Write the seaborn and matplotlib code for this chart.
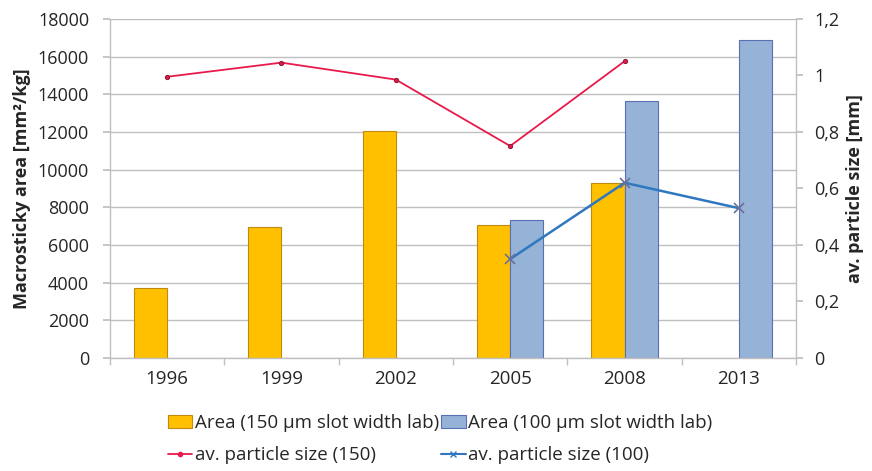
import numpy as np
import pandas as pd
import matplotlib
matplotlib.use("Agg")
import matplotlib.pyplot as plt
from matplotlib.ticker import FixedLocator, FuncFormatter
from matplotlib.lines import Line2D
from matplotlib.patches import Patch
import seaborn as sns

# Survey years and measured values
years = ["1996", "1999", "2002", "2005", "2008", "2013"]
area_150 = [3700, 6950, 12050, 7050, 9300, np.nan]
area_100 = [np.nan, np.nan, np.nan, 7300, 13650, 16900]
size_150 = [0.995, 1.045, 0.985, 0.75, 1.05, np.nan]
size_100 = [np.nan, np.nan, np.nan, 0.35, 0.62, 0.53]

lab_150 = "Area (150 µm slot width lab)"
lab_100 = "Area (100 µm slot width lab)"
line_150 = "av. particle size (150)"
line_100 = "av. particle size (100)"

c_orange = "#FFC000"
c_orange_edge = "#C08A10"
c_blue_bar = "#95B3D7"
c_blue_edge = "#5C6FB2"
c_red = "#E8194B"
c_blue_line = "#2F78C0"
grid_c = "#BFBFBF"

sns.set_theme(style="white")
plt.rcParams["font.family"] = ["Open Sans", "DejaVu Sans"]

bars = pd.DataFrame({
    "year": years * 2,
    "area": area_150 + area_100,
    "series": [lab_150] * len(years) + [lab_100] * len(years),
})

fig = plt.figure(figsize=(8.72, 4.71), dpi=100)
ax = fig.add_axes([0.126, 0.240, 0.787, 0.720])

sns.barplot(data=bars, x="year", y="area", hue="series", order=years,
            hue_order=[lab_150, lab_100],
            palette={lab_150: c_orange, lab_100: c_blue_bar},
            saturation=1, width=0.58, errorbar=None, legend=False, ax=ax, zorder=2)
for patch in ax.patches:
    fc = patch.get_facecolor()
    patch.set_edgecolor(c_orange_edge if fc[2] < 0.5 else c_blue_edge)
    patch.set_linewidth(0.8)

ax.set_ylim(0, 18000)
ax.set_xlim(-0.5, 5.5)
ax.yaxis.set_major_locator(FixedLocator(np.arange(0, 18001, 2000)))
ax.yaxis.grid(True, color=grid_c, linewidth=1.0, zorder=0)
ax.set_axisbelow(True)
ax.set_xlabel("")
ax.set_ylabel("Macrosticky area [mm²/kg]", fontsize=13, fontweight="bold", labelpad=5)
ax.tick_params(axis="y", labelsize=13, length=5, color=grid_c, pad=10, left=True)
ax.tick_params(axis="x", which="major", labelsize=13.5, length=0, pad=9)
ax.xaxis.set_minor_locator(FixedLocator(np.arange(-0.5, 6.0, 1.0)))
ax.tick_params(axis="x", which="minor", length=5, color=grid_c, bottom=True)
for side in ["top", "right"]:
    ax.spines[side].set_visible(False)
for side in ["left", "bottom"]:
    ax.spines[side].set_color(grid_c)
    ax.spines[side].set_linewidth(1.0)

ax2 = ax.twinx()
idx = np.arange(len(years))
sns.lineplot(x=idx, y=size_150, color=c_red, marker="o", markersize=3,
             markeredgecolor="#8B1A3A", linewidth=1.3, ax=ax2, zorder=3)
sns.lineplot(x=idx, y=size_100, color=c_blue_line, marker="x", markersize=7,
             markeredgecolor="#6A6F9A", markeredgewidth=1.2, linewidth=1.8, ax=ax2, zorder=3)
ax2.set_ylim(0, 1.2)
ax2.set_xlim(-0.5, 5.5)
ax2.yaxis.set_major_locator(FixedLocator(np.arange(0, 1.21, 0.2)))
ax2.yaxis.set_major_formatter(FuncFormatter(lambda v, p: f"{round(v, 1):g}".replace(".", ",")))
ax2.set_ylabel("av. particle size [mm]", fontsize=13, fontweight="bold", labelpad=5)
ax2.tick_params(axis="y", labelsize=13, length=5, color=grid_c, pad=8, right=True)
for side in ["top", "left", "bottom"]:
    ax2.spines[side].set_visible(False)
ax2.spines["right"].set_color(grid_c)
ax2.spines["right"].set_linewidth(1.0)

handles = [
    Patch(facecolor=c_orange, edgecolor=c_orange_edge, linewidth=0.8, label=lab_150),
    Line2D([], [], color=c_red, marker="o", markersize=3, linewidth=1.3, label=line_150),
    Patch(facecolor=c_blue_bar, edgecolor=c_blue_edge, linewidth=0.8, label=lab_100),
    Line2D([], [], color=c_blue_line, marker="x", markersize=4, linewidth=1.5, label=line_100),
]
fig.legend(handles=handles, loc="lower center", bbox_to_anchor=(0.505, -0.022), ncol=2,
           frameon=False, fontsize=13.5, handlelength=1.3, handletextpad=0.15,
           columnspacing=0.1, labelspacing=0.75)

fig.savefig("out.png", dpi=100)
